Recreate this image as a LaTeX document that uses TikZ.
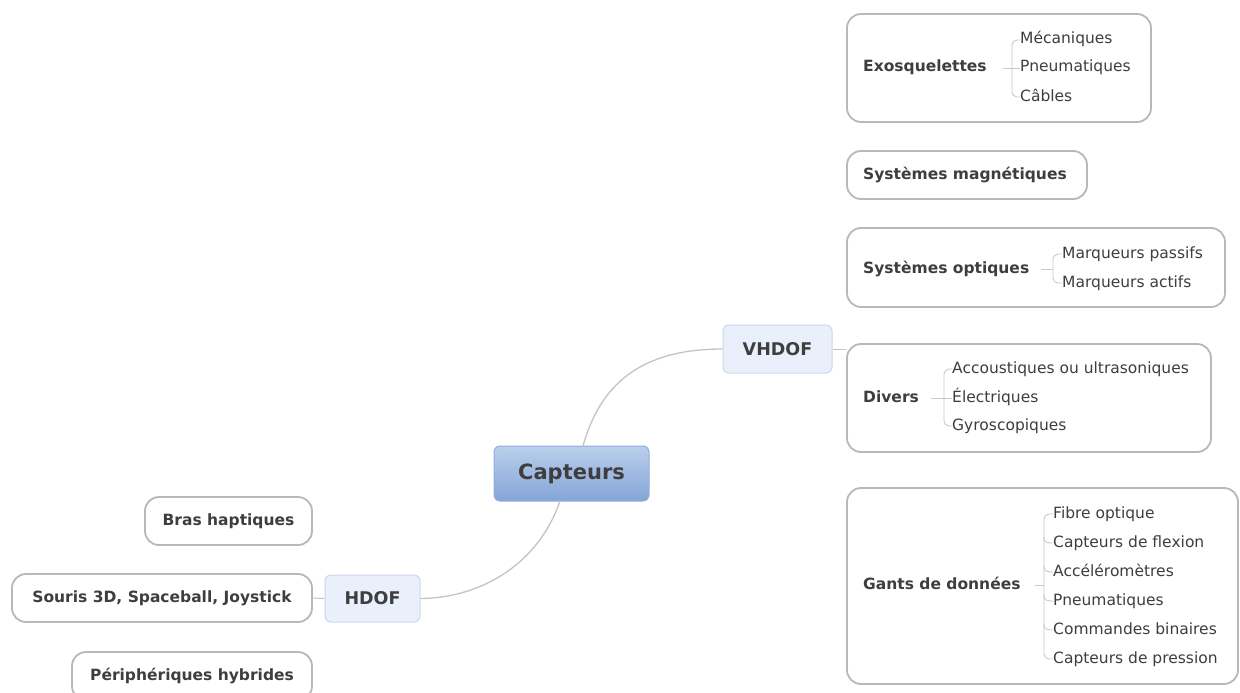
\documentclass[tikz,border=0pt]{standalone}
\usepackage{fontspec}
\setmainfont{DejaVu Sans}
\usetikzlibrary{fit}
\definecolor{boxgray}{HTML}{B8B8B8}
\definecolor{txt}{HTML}{3E3E3E}
\definecolor{linegray}{HTML}{C8C8C8}
\definecolor{curvegray}{HTML}{C4C4C4}
\definecolor{vfill}{HTML}{EAF0FB}
\definecolor{vdraw}{HTML}{CBD7EC}
\definecolor{ctop}{HTML}{BACFEC}
\definecolor{cbot}{HTML}{84A5D6}
\definecolor{cdraw}{HTML}{93AEDA}
\tikzset{
  x=1pt, y=-1pt,
  box/.style={draw=boxgray, line width=1.8pt, rounded corners=14pt, fill=white, inner sep=0pt},
  title/.style={font=\fontsize{15.5}{18}\selectfont\bfseries, text=txt, inner sep=0pt, anchor=west,
    text height=11.5pt, text depth=3.5pt},
  ctitle/.style={font=\fontsize{15.5}{18}\selectfont\bfseries, text=txt, inner sep=0pt,
    text height=11.5pt, text depth=3.5pt},
  child/.style={font=\fontsize{15.5}{18}\selectfont, text=txt, inner sep=0pt, anchor=west,
    text height=11.5pt, text depth=3.5pt},
  bracket/.style={draw=linegray, line width=0.9pt, rounded corners=5pt},
  sub/.style={draw=vdraw, fill=vfill, line width=1pt, rounded corners=6pt, inner sep=0pt,
    font=\fontsize{17.5}{20}\selectfont\bfseries, text=txt},
  conn/.style={draw=curvegray, line width=1.3pt},
}
\begin{document}
\begin{tikzpicture}
\clip (0,0) rectangle (1240,693);
\fill[white] (0,0) rectangle (1240,693);

% central node
\node[draw=cdraw, line width=1pt, rounded corners=6pt, top color=ctop, bottom color=cbot,
  minimum width=155pt, minimum height=55pt, inner sep=0pt,
  font=\fontsize{21}{24}\selectfont\bfseries, text=txt] (cap) at (571.5,473.5) {Capteurs};

\node[sub, minimum width=109pt, minimum height=48pt] (vh) at (777.5,349) {VHDOF};
\node[sub, minimum width=95pt, minimum height=47pt] (hd) at (372.5,598.5) {HDOF};

\coordinate (capTop) at (583,446);
\coordinate (capBot) at (560,501);
\draw[conn] (capTop) .. controls (600,385) and (640,349) .. (vh.west);
\draw[conn] (capBot) .. controls (538,565) and (480,598) .. (hd.east);

% right boxes
\node[box, fit={(847,14) (1151,122)}] (exoB) {};
\node[box, fit={(847,151) (1087,199)}] (magB) {};
\node[box, fit={(847,228) (1225,307)}] (optB) {};
\node[box, fit={(847,344) (1211,452)}] (divB) {};
\node[box, fit={(847,488) (1238,684)}] (gantB) {};

\coordinate (divIn) at (divB.west |- vh.east);
\draw[conn, line width=1pt] (vh.east) -- (divIn);

% Exosquelettes
\node[title] (exo) at (863,68) {Exosquelettes};
\node[child] (exo1) at (1020,40) {Mécaniques};
\node[child] (exo2) at (1020,68) {Pneumatiques};
\node[child] (exo3) at (1020,97) {Câbles};
\draw[bracket] (exo1.west) -- (1012,40) -- (1012,97) -- (exo3.west);
\draw[bracket] ([xshift=16pt]exo.east) -- (exo2.west);

% Systemes magnetiques
\node[title] (mag) at (863,175) {Systèmes magnétiques};

% Systemes optiques
\node[title] (opt) at (863,269) {Systèmes optiques};
\node[child] (opt1) at (1062,254) {Marqueurs passifs};
\node[child] (opt2) at (1062,283) {Marqueurs actifs};
\draw[bracket] (opt1.west) -- (1053,254) -- (1053,283) -- (opt2.west);
\draw[bracket] ([xshift=12pt]opt.east) -- (1053,269);

% Divers
\node[title] (div) at (863,398) {Divers};
\node[child] (div1) at (952,369) {Accoustiques ou ultrasoniques};
\node[child] (div2) at (952,398) {Électriques};
\node[child] (div3) at (952,426) {Gyroscopiques};
\draw[bracket] (div1.west) -- (944,369) -- (944,426) -- (div3.west);
\draw[bracket] ([xshift=12pt]div.east) -- (div2.west);

% Gants de donnees
\node[title] (gant) at (863,585) {Gants de données};
\node[child] (g1) at (1053,514) {Fibre optique};
\node[child] (g2) at (1053,543) {Capteurs de flexion};
\node[child] (g3) at (1053,572) {Accéléromètres};
\node[child] (g4) at (1053,601) {Pneumatiques};
\node[child] (g5) at (1053,630) {Commandes binaires};
\node[child] (g6) at (1053,659) {Capteurs de pression};
\draw[bracket] (g1.west) -- (1044,514) -- (1044,659) -- (g6.west);
\draw[bracket] ([xshift=14pt]gant.east) -- (1044,585);
\foreach \c/\yy in {g2/543, g3/572, g4/601, g5/630}{
  \draw[draw=linegray, line width=0.9pt] (1044,\yy-6) .. controls (1044,\yy-1) and (1046,\yy) .. (\c.west);
}

% left boxes
\node[box, fit={(145,497) (312,545)}] (brasB) {};
\node[ctitle] (bras) at (brasB.center) {Bras haptiques};
\node[box, fit={(12,574) (312,622)}] (sourB) {};
\node[ctitle] (sour) at (sourB.center) {Souris 3D, Spaceball, Joystick};
\node[box, fit={(72,652) (312,700)}] (periB) {};
\node[ctitle] (peri) at (periB.center) {Périphériques hybrides};

\draw[conn, line width=1pt] (hd.west) -- (sourB.east);
\end{tikzpicture}
\end{document}
